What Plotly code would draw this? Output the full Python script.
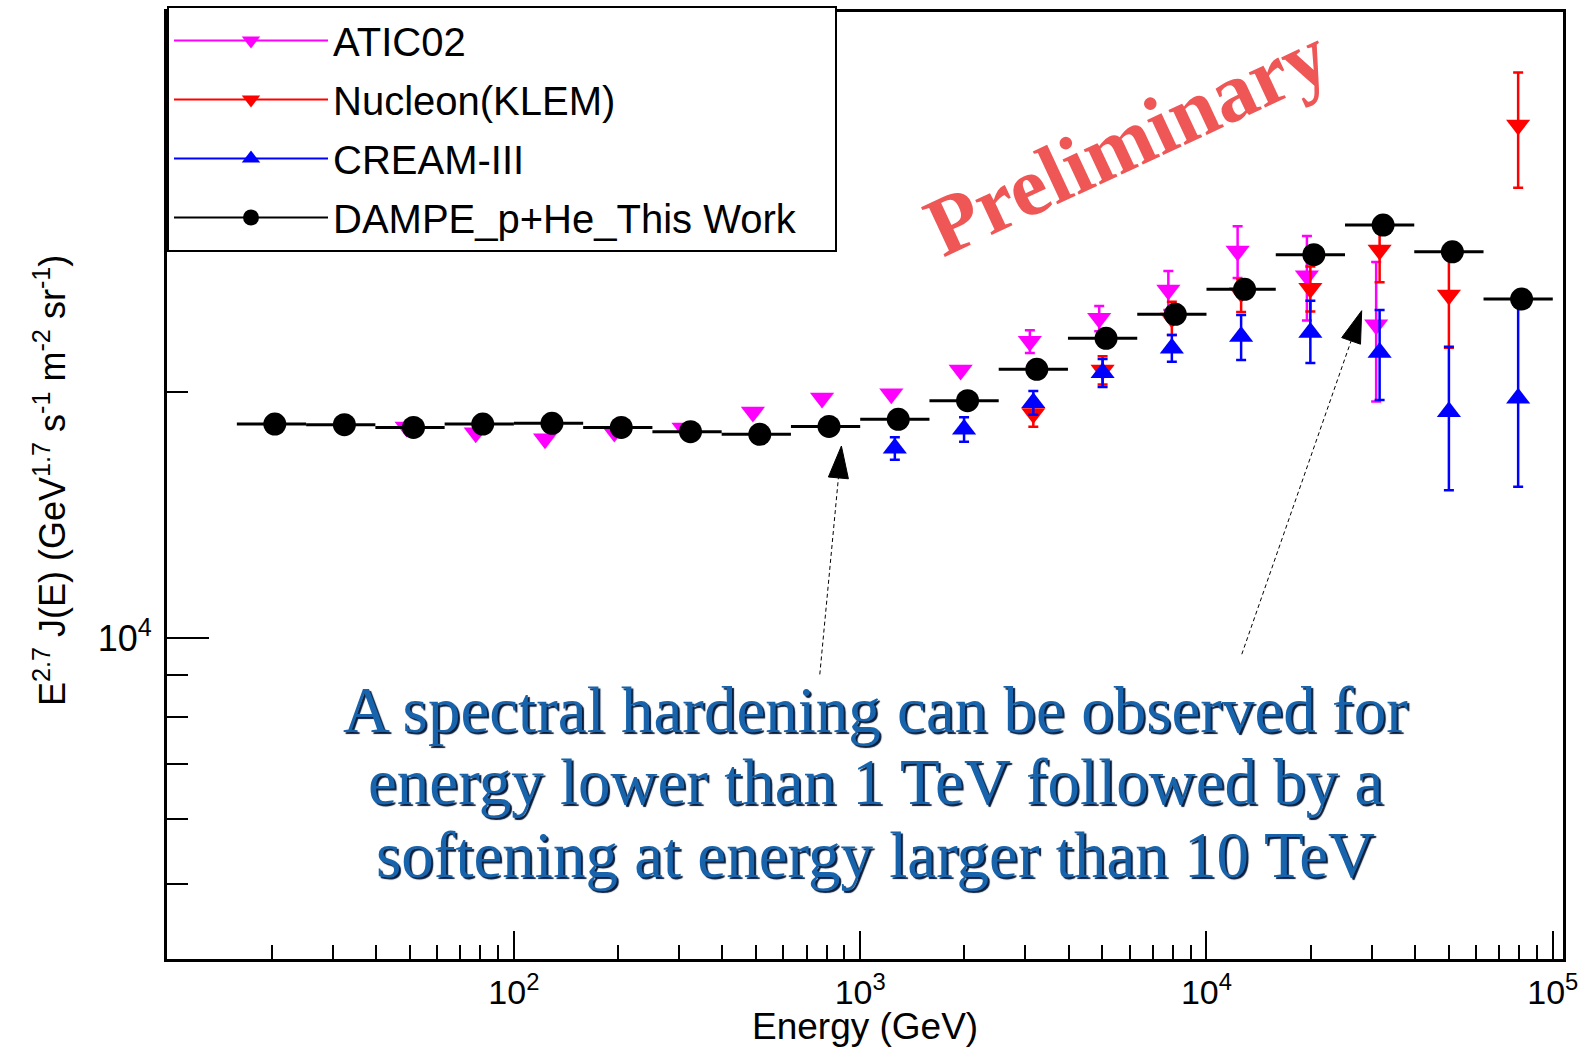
import plotly.graph_objects as go

# ---------------- data ----------------
# ATIC-02 (p+He), E^2.7 weighted flux
atic_energy = [49.0, 77.6, 123.0, 195.0, 309.0, 490.0, 776.0, 1230.0, 1950.0,
               3090.0, 4900.0, 7760.0, 12300.0, 19500.0, 30900.0]
atic_flux = [18140, 17850, 17550, 17890, 18090, 18920, 19680, 19920, 21300,
             23100, 24650, 26700, 29800, 27800, 24200]
atic_err = [0, 0, 0, 0, 0, 0, 0, 0, 0,
            740, 880, 1470, 2170, 3300, 4700]

# NUCLEON (KLEM)
nucleon_energy = [3162, 5012, 7943, 12590, 19950, 31620, 50120, 79430]
nucleon_flux = [18850, 21300, 24670, 26500, 26830, 29890, 26320, 42540]
nucleon_err_up = [700, 850, 1160, 1000, 1700, 2600, 3630, 6800]
nucleon_err_dn = [700, 850, 1160, 1400, 1700, 2600, 3630, 6900]

# CREAM-III
cream_energy = [1259, 1995, 3162, 5012, 7943, 12590, 19950, 31620, 50120, 79430]
cream_flux = [17080, 18020, 19430, 21140, 22650, 23410, 23680, 22390, 18940, 19670]
cream_err_up = [540, 620, 650, 830, 860, 1470, 2220, 2840, 3810, 6600]
cream_err_dn = [540, 620, 650, 830, 840, 1500, 1950, 2820, 3760, 4340]

# DAMPE p+He, with energy bin edges
dampe_energy = [20.4, 32.4, 51.3, 81.3, 128.8, 204.2, 323.6, 512.9, 812.8, 1288,
                2042, 3236, 5129, 8128, 12880, 20420, 32360, 51290, 81280]
dampe_bin_lo = [15.85, 25.12, 39.81, 63.10, 100.0, 158.5, 251.2, 398.1, 631.0, 1000,
                1585, 2512, 3981, 6310, 10000, 15850, 25120, 39810, 63100]
dampe_bin_hi = [25.12, 39.81, 63.10, 100.0, 158.5, 251.2, 398.1, 631.0, 1000, 1585,
                2512, 3981, 6310, 10000, 15850, 25120, 39810, 63100, 100000]
dampe_flux = [18290, 18260, 18120, 18290, 18330, 18120, 17900, 17770, 18170, 18540,
              19540, 21350, 23300, 24930, 26750, 29500, 32070, 29740, 26030]

x_tick_vals = [1e2, 1e3, 1e4, 1e5]
x_tick_text = ["10<sup>2</sup>", "10<sup>3</sup>", "10<sup>4</sup>", "10<sup>5</sup>"]
y_tick_vals = [1e4]
y_tick_text = ["10<sup>4</sup>"]

# ---------------- page geometry ----------------
W, H = 1583, 1047
ML, MR, MT, MB = 167, 20, 12, 88
PW, PH = W - ML - MR, H - MT - MB

SANS = "Liberation Sans, Arial, sans-serif"
SERIF = "Liberation Serif, Times New Roman, serif"
NBSP = "\u00a0"


def paper(px, py):
    """Pixel position on the page -> paper coordinates of the plot area."""
    return (px - ML) / PW, 1 - (py - MT) / PH


fig = go.Figure()


def diff(a, b):
    return [x - y for x, y in zip(a, b)]


TRI = 21
series = [
    dict(name="ATIC02", x=atic_energy, y=atic_flux, up=atic_err, dn=atic_err,
         color="#FF00FF", symbol="triangle-down"),
    dict(name="Nucleon(KLEM)", x=nucleon_energy, y=nucleon_flux, up=nucleon_err_up,
         dn=nucleon_err_dn, color="#FF0000", symbol="triangle-down"),
    dict(name="CREAM-III", x=cream_energy, y=cream_flux, up=cream_err_up,
         dn=cream_err_dn, color="#0000FF", symbol="triangle-up"),
]

for s in series:
    fig.add_trace(go.Scatter(
        x=s["x"], y=s["y"], mode="markers", showlegend=False,
        marker=dict(symbol=s["symbol"], size=TRI, color=s["color"]),
        error_y=dict(type="data", symmetric=False, array=s["up"], arrayminus=s["dn"],
                     color=s["color"], thickness=2.5, width=5),
    ))

fig.add_trace(go.Scatter(
    x=dampe_energy, y=dampe_flux, mode="markers", showlegend=False,
    marker=dict(symbol="circle", size=23, color="black"),
    error_x=dict(type="data", symmetric=False,
                 array=diff(dampe_bin_hi, dampe_energy),
                 arrayminus=diff(dampe_energy, dampe_bin_lo),
                 color="black", thickness=3, width=0),
))

# legend entries (line + marker keys)
legend_keys = [(s["name"], s["color"], s["symbol"], TRI) for s in series]
legend_keys.append(("DAMPE_p+He_This Work" + NBSP * 3, "black", "circle", 23))
for i, (name, color, symbol, size) in enumerate(legend_keys):
    fig.add_trace(go.Scatter(
        x=[None], y=[None], mode="lines+markers", name=name, legendgroup=f"g{i}",
        line=dict(color=color, width=2),
        marker=dict(symbol=symbol, size=size, color=color),
    ))

# ---------------- annotations ----------------
annotations = []
annotations.append(dict(
    text="Energy (GeV)", xref="paper", yref="paper", x=0.5, y=paper(0, 1026)[1],
    xanchor="center", yanchor="middle", showarrow=False,
    font=dict(family=SANS, size=37, color="black")))
annotations.append(dict(
    text="E<sup>2.7</sup> J(E) (GeV<sup>1.7</sup> s<sup>-1</sup> m<sup>-2</sup> sr<sup>-1</sup>)",
    xref="paper", yref="paper", x=paper(50, 0)[0], y=paper(0, 481)[1],
    xanchor="center", yanchor="middle", textangle=-90, showarrow=False,
    font=dict(family=SANS, size=36, color="black")))

px_, py_ = paper(1127, 141)
annotations.append(dict(
    text="<b>Preliminary</b>", xref="paper", yref="paper", x=px_, y=py_,
    xanchor="center", yanchor="middle", textangle=-25, showarrow=False,
    font=dict(family=SERIF, size=84, color="#EF5656")))

note_lines = [
    "A spectral hardening can be observed for",
    "energy lower than 1 TeV followed by a",
    "softening at energy larger than 10 TeV",
]
for line, yc in zip(note_lines, [710, 782, 855]):
    nx, ny = paper(875, yc)
    annotations.append(dict(
        text=line, xref="paper", yref="paper", x=nx, y=ny,
        xanchor="center", yanchor="middle", showarrow=False,
        font=dict(family=SERIF, size=65, color="#1763AC",
                  shadow="2px 2px 1px #081C3A")))

# ---------------- arrows ----------------
shapes = []
arrows = [
    # tail, base of head, tip, head corners
    ((819.8, 674.4), (838.4, 477.9), (841.4, 446.0), (848.4, 478.8), (828.4, 477.0)),
    ((1241.8, 654.2), (1351.1, 340.9), (1361.7, 310.7), (1360.5, 344.2), (1341.7, 337.6)),
]
for tail, base, tip, c1, c2 in arrows:
    x0, y0 = paper(*tail)
    x1, y1 = paper(*base)
    shapes.append(dict(type="line", xref="paper", yref="paper", x0=x0, y0=y0, x1=x1, y1=y1,
                       line=dict(color="black", width=1, dash="4px,3px")))
    pts = [paper(*p) for p in (tip, c1, c2)]
    path = "M {} {} L {} {} L {} {} Z".format(pts[0][0], pts[0][1], pts[1][0], pts[1][1],
                                              pts[2][0], pts[2][1])
    shapes.append(dict(type="path", xref="paper", yref="paper", path=path,
                       fillcolor="black", line=dict(color="black", width=1)))

x_minor = [m * 10 ** d for d in range(1, 5) for m in range(2, 10)]
y_minor = [m * 10 ** d for d in range(3, 5) for m in range(2, 10)]

fig.update_layout(
    width=W, height=H,
    margin=dict(l=ML, r=MR, t=MT, b=MB, pad=0, autoexpand=False),
    paper_bgcolor="white", plot_bgcolor="white",
    showlegend=True,
    legend=dict(x=0, y=1 - 6 / H, xref="paper", yref="container",
                xanchor="left", yanchor="top", bgcolor="white",
                bordercolor="black", borderwidth=2, itemwidth=154, tracegroupgap=4,
                font=dict(family=SANS, size=40, color="black")),
    annotations=annotations,
    shapes=shapes,
    xaxis=dict(
        type="log", range=[0.9983, 5.0295], showgrid=False, zeroline=False,
        showline=True, linecolor="black", linewidth=3, mirror=True, automargin=False,
        ticks="inside", ticklen=28, tickwidth=2, tickcolor="black",
        tickmode="array", tickvals=x_tick_vals, ticktext=x_tick_text,
        tickfont=dict(family=SANS, size=34, color="black"), ticklabelstandoff=1,
        minor=dict(tickmode="array", tickvals=x_minor, ticks="inside", ticklen=14,
                   tickwidth=2, tickcolor="black", showgrid=False),
    ),
    yaxis=dict(
        type="log", range=[3.6067, 4.7672], showgrid=False, zeroline=False,
        showline=True, linecolor="black", linewidth=3, mirror=True, automargin=False,
        ticks="inside", ticklen=42, tickwidth=2, tickcolor="black",
        tickmode="array", tickvals=y_tick_vals, ticktext=y_tick_text,
        tickfont=dict(family=SANS, size=36, color="black"), ticklabelstandoff=5,
        minor=dict(tickmode="array", tickvals=y_minor, ticks="inside", ticklen=21,
                   tickwidth=2, tickcolor="black", showgrid=False),
    ),
)

fig.write_html("out.html")
